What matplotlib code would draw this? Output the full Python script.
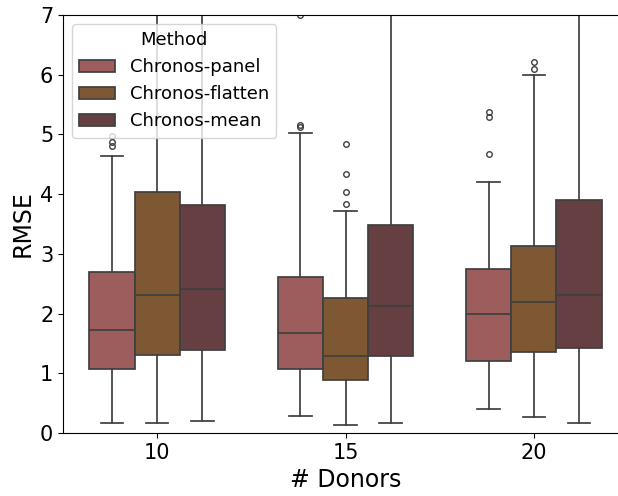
import matplotlib
matplotlib.use("Agg")
import matplotlib.pyplot as plt
from matplotlib.patches import Patch

donors = ["10", "15", "20"]
methods = ["Chronos-panel", "Chronos-flatten", "Chronos-mean"]
colors = ["#9d5d5d", "#7e5733", "#663f42"]

# per method, per donor group: (whislo, q1, med, q3, whishi)
panel_stats = [(0.17, 1.07, 1.73, 2.70, 4.64),
               (0.29, 1.07, 1.67, 2.61, 5.02),
               (0.40, 1.21, 2.00, 2.75, 4.21)]
flatten_stats = [(0.17, 1.31, 2.31, 4.03, 8.50),
                 (0.14, 0.89, 1.29, 2.26, 3.72),
                 (0.27, 1.36, 2.19, 3.13, 6.00)]
mean_stats = [(0.20, 1.39, 2.41, 3.82, 8.80),
              (0.16, 1.29, 2.13, 3.48, 8.20),
              (0.17, 1.42, 2.31, 3.91, 8.60)]
panel_fliers = [[4.98, 4.88, 4.81], [7.0, 5.16, 5.12], [5.38, 5.29, 4.67]]
flatten_fliers = [[], [4.84, 4.33, 4.04, 3.84], [6.21, 6.10]]
mean_fliers = [[], [], []]

all_stats = [panel_stats, flatten_stats, mean_stats]
all_fliers = [panel_fliers, flatten_fliers, mean_fliers]

fig = plt.figure(figsize=(6.18, 4.96), dpi=100)
W, H = 618, 496
ax = fig.add_axes([63 / W, (H - 433) / H, (628 - 63) / W, (433 - 15) / H])

edge = "#3f3f3f"
lw = 1.25
bw = 0.24
offsets = [-bw, 0, bw]
for m, (stats, fliers, col, off) in enumerate(zip(all_stats, all_fliers, colors, offsets)):
    bxp_stats = []
    for (lo, q1, med, q3, hi), fl in zip(stats, fliers):
        bxp_stats.append(dict(whislo=lo, q1=q1, med=med, q3=q3, whishi=hi, fliers=fl))
    pos = [i + off for i in range(len(donors))]
    ax.bxp(bxp_stats, positions=pos, widths=bw, patch_artist=True,
           boxprops=dict(facecolor=col, edgecolor=edge, linewidth=lw),
           medianprops=dict(color=edge, linewidth=lw),
           whiskerprops=dict(color=edge, linewidth=lw),
           capprops=dict(color=edge, linewidth=lw),
           flierprops=dict(marker="o", markersize=4, markerfacecolor="none",
                           markeredgecolor=edge, markeredgewidth=1.0),
           capwidths=bw * 0.5, manage_ticks=False)

ax.set_xlim(-0.5, 2.5)
ax.set_ylim(0, 7)
ax.set_xticks(range(len(donors)))
ax.set_xticklabels(donors)
ax.tick_params(labelsize=15)
ax.set_xlabel("# Donors", fontsize=17)
ax.set_ylabel("RMSE", fontsize=17)

handles = [Patch(facecolor=c, edgecolor=edge, linewidth=lw, label=l) for c, l in zip(colors, methods)]
ax.legend(handles=handles, title="Method", loc="upper left", fontsize=13, title_fontsize=13)

fig.savefig("out.png", dpi=100)
